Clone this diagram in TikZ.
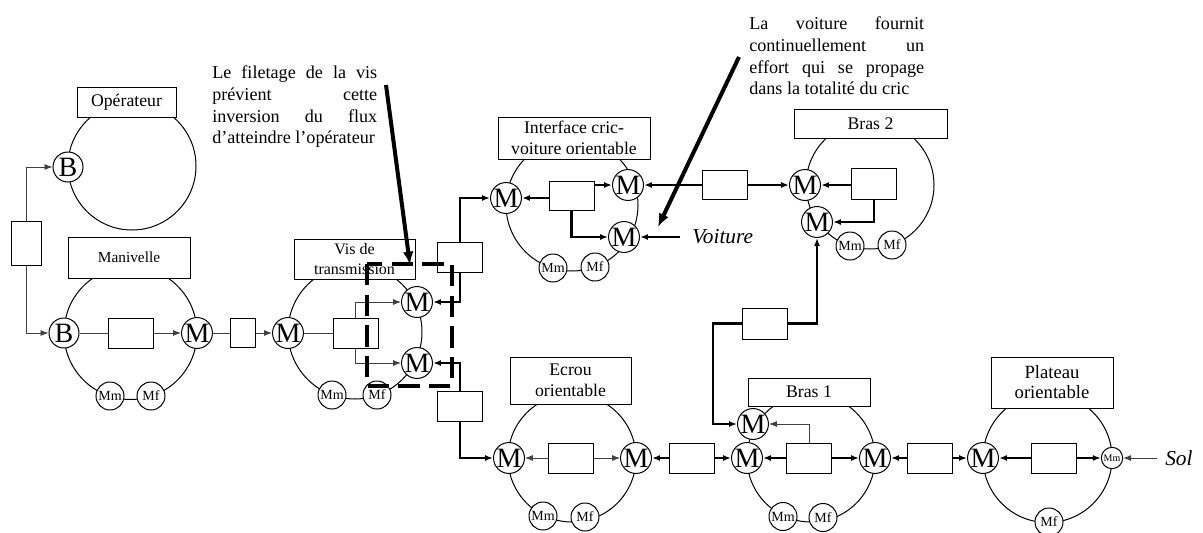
\documentclass[tikz,border=0pt]{standalone}
\usepackage{fontspec}
\setmainfont{Liberation Serif}
\usepackage{xcolor}
\usepackage{tikz}
\usetikzlibrary{arrows.meta}
\definecolor{fin}{HTML}{404040}

\tikzset{
  titre/.style={draw, fill=white, line width=0.75pt, inner sep=0pt, align=center, font=\fontsize{13.3}{16}\selectfont},
  bloc/.style={draw, fill=white, line width=0.75pt, inner sep=0pt, minimum width=33.75pt, minimum height=22.5pt},
  jonc/.style={circle, draw, fill=white, line width=0.75pt, inner sep=0pt, minimum size=22.5pt, font=\fontsize{21}{21}\selectfont},
  masse/.style={circle, draw, fill=white, line width=0.75pt, inner sep=0pt, minimum size=21pt, font=\fontsize{10.5}{10.5}\selectfont},
  anneau/.style={line width=0.75pt},
  mince/.style={line width=0.6pt, draw=fin},
  epais/.style={line width=2pt},
  pointe/.style={-{Latex[length=6pt,width=4.5pt]}},
  rappel/.style={line width=3pt, -{Latex[length=10pt,width=8pt]}},
  tirets/.style={line width=3pt, dash pattern=on 16pt off 7pt},
  texte/.style={inner sep=0pt, align=left, font=\fontsize{13.6}{16.3}\selectfont},
  libre/.style={inner sep=0pt, anchor=west, font=\fontsize{16}{16}\selectfont\itshape}
}

\begin{document}
\begin{tikzpicture}[x=0.75pt, y=-0.75pt]
\useasboundingbox (0,0) rectangle (1203,532);

% anneaux des sous-ensembles
\draw[anneau] (132,166) circle[radius=64];
\draw[anneau] (130.5,333) circle[radius=66.5];
\draw[anneau] (355,332) circle[radius=67];
\draw[anneau] (572,205) circle[radius=66];
\draw[anneau] (870,185) circle[radius=64];
\draw[anneau] (572,458) circle[radius=64];
\draw[anneau] (811,458) circle[radius=64];
\draw[anneau] (1047.5,458) circle[radius=64.5];

% titres
\node[titre, minimum width=74.25pt, minimum height=22.5pt] (opT) at (126.5,102) {Opérateur};
\node[titre, minimum width=91.5pt, minimum height=30.75pt, font=\fontsize{11.5}{14}\selectfont] (manT) at (129,257.5) {Manivelle};
\node[titre, minimum width=90.75pt, minimum height=30pt, font=\fontsize{12}{14.5}\selectfont] (visT) at (354.5,259) {Vis de\\transmission};
\node[titre, minimum width=114pt, minimum height=31.5pt] (intT) at (574,138) {Interface cric-\\voiture orientable};
\node[titre, minimum width=114.75pt, minimum height=21.75pt] (br2T) at (870.5,123.5) {Bras 2};
\node[titre, minimum width=90.75pt, minimum height=35.25pt] (ecrT) at (570.5,380.5) {Ecrou\\orientable};
\node[titre, minimum width=91.5pt, minimum height=21pt] (br1T) at (809,392) {Bras 1};
\node[titre, minimum width=91.5pt, minimum height=38.25pt, font=\fontsize{14}{15}\selectfont] (plaT) at (1052,382.5) {Plateau\\orientable};

% Operateur et Manivelle
\node[jonc] (opB) at (68,167) {B};
\node[bloc, minimum width=22.5pt, minimum height=33pt] (liaB) at (26,243) {};
\node[jonc] (manB) at (64,333) {B};
\node[bloc] (manC) at (131,333) {};
\node[jonc] (manM) at (197,333) {M};
\node[masse] (manMm) at (110,396) {Mm};
\node[masse] (manMf) at (151,396) {Mf};
\node[bloc, minimum width=18.75pt, minimum height=21.75pt] (liaMV) at (242.5,333) {};

% Vis de transmission
\node[jonc] (visM) at (288,333) {M};
\node[bloc] (visC) at (355.5,333) {};
\node[jonc] (visM1) at (417,302) {M};
\node[jonc] (visM2) at (417,363) {M};
\node[masse] (visMm) at (332,395) {Mm};
\node[masse] (visMf) at (377,395) {Mf};
\node[bloc] (liaVI) at (460,257) {};
\node[bloc] (liaVE) at (460,406) {};

% Interface cric-voiture
\node[jonc] (intM) at (506,198) {M};
\node[bloc, minimum height=21.75pt] (intC) at (571.5,195.5) {};
\node[jonc] (intM1) at (628,185) {M};
\node[jonc] (intM2) at (624,237) {M};
\node[masse] (intMm) at (553,268) {Mm};
\node[masse] (intMf) at (595,267) {Mf};
\node[libre, inner xsep=9pt] (voit) at (680,237) {Voiture};
\node[bloc, minimum height=21.75pt] (liaIB) at (724.5,185) {};

% Bras 2
\node[jonc] (br2M1) at (805,185) {M};
\node[bloc, minimum height=23.25pt] (br2C) at (874,184) {};
\node[jonc] (br2M2) at (817,222) {M};
\node[masse] (br2Mm) at (850,246) {Mm};
\node[masse] (br2Mf) at (892,245) {Mf};
\node[bloc, minimum height=23.25pt] (liaB12) at (764.5,323.5) {};

% Ecrou
\node[jonc] (ecrM1) at (509,458) {M};
\node[bloc] (ecrC) at (570.5,458) {};
\node[jonc] (ecrM2) at (636,458) {M};
\node[masse] (ecrMm) at (543,516) {Mm};
\node[masse] (ecrMf) at (585,517) {Mf};
\node[bloc] (liaEB) at (692,458) {};

% Bras 1
\node[jonc] (br1M0) at (753,424) {M};
\node[jonc] (br1M1) at (747,458) {M};
\node[bloc] (br1C) at (809,458) {};
\node[jonc] (br1M2) at (875,458) {M};
\node[masse] (br1Mm) at (783,516.5) {Mm};
\node[masse] (br1Mf) at (823,517.5) {Mf};
\node[bloc] (liaBP) at (930,458) {};

% Plateau
\node[jonc] (plaM) at (983,458) {M};
\node[bloc] (plaC) at (1053.5,458) {};
\node[masse, minimum size=16pt, font=\fontsize{7.5}{7.5}\selectfont] (plaMm) at (1112,458) {Mm};
\node[masse] (plaMf) at (1049,522) {Mf};
\node[libre, inner xsep=6pt] (sol) at (1157,458) {Sol};

% liaisons
\draw[mince, pointe] (liaB.north) |- (opB);
\draw[mince, pointe] (liaB.south) |- (manB);
\draw[mince] (manB) -- (manC);
\draw[mince, pointe] (manC) -- (manM);
\draw[mince] (manM) -- (liaMV);
\draw[mince, pointe] (liaMV) -- (visM);

\draw[mince] (visM) -- (visC);
\draw[mince, pointe] (visC.north) |- (visM1);
\draw[mince, pointe] (visC.south) |- (visM2);
\draw[epais, pointe] (liaVI.north) |- (intM);
\draw[epais, pointe] (liaVI.south) |- (visM1);
\draw[epais, pointe] (liaVE.north) |- (visM2);
\draw[epais, pointe] (liaVE.south) |- (ecrM1);

\draw[epais, pointe] (intC.west |- intM) -- (intM);
\draw[epais, pointe] (intC.east |- intM1) -- (intM1);
\draw[epais, pointe] (intC.south) |- (intM2);
\draw[epais, pointe] (voit.west) -- (intM2);
\draw[epais, pointe] (liaIB) -- (intM1);
\draw[epais, pointe] (liaIB) -- (br2M1);

\draw[epais, pointe] (br2C.west |- br2M1) -- (br2M1);
\draw[epais, pointe] (br2C.south) |- (br2M2);
\draw[epais, pointe] (liaB12.east) -| (br2M2);
\draw[epais, pointe] (liaB12.west) -- ++(-28.5,0) |- (br1M0);

\draw[mince, pointe] (ecrC) -- (ecrM1);
\draw[mince, pointe] (ecrC) -- (ecrM2);
\draw[epais, pointe] (liaEB) -- (ecrM2);
\draw[epais, pointe] (liaEB) -- (br1M1);

\draw[mince, pointe] (br1C.north) |- (br1M0);
\draw[epais, pointe] (br1C) -- (br1M1);
\draw[epais, pointe] (br1C) -- (br1M2);
\draw[epais, pointe] (liaBP) -- (br1M2);
\draw[epais, pointe] (liaBP) -- (plaM);

\draw[epais, pointe] (plaC) -- (plaM);
\draw[epais, pointe] (plaC) -- (plaMm);
\draw[mince, pointe] (sol.west) -- (plaMm);

% remarques
\node[texte, anchor=north west] (remVis) at (212,65.5)
  {\makebox[123.75pt][s]{Le filetage de la vis}\\
   \makebox[123.75pt][s]{prévient cette}\\
   \makebox[123.75pt][s]{inversion du flux}\\
   d'atteindre l'opérateur};
\node[texte, anchor=north west] (remVoit) at (749,16.5)
  {\makebox[131.25pt][s]{La voiture fournit}\\
   \makebox[131.25pt][s]{continuellement un}\\
   \makebox[131.25pt][s]{effort qui se propage}\\
   dans la totalité du cric};
\coordinate (qVis) at (386,85);
\coordinate (pVis) at (410,265);
\coordinate (qVoit) at (739,57);
\coordinate (pVoit) at (658,227);
\draw[tirets] (367,264) rectangle (452,386);
\draw[rappel] (qVis) -- (pVis);
\draw[rappel] (qVoit) -- (pVoit);
\end{tikzpicture}
\end{document}
